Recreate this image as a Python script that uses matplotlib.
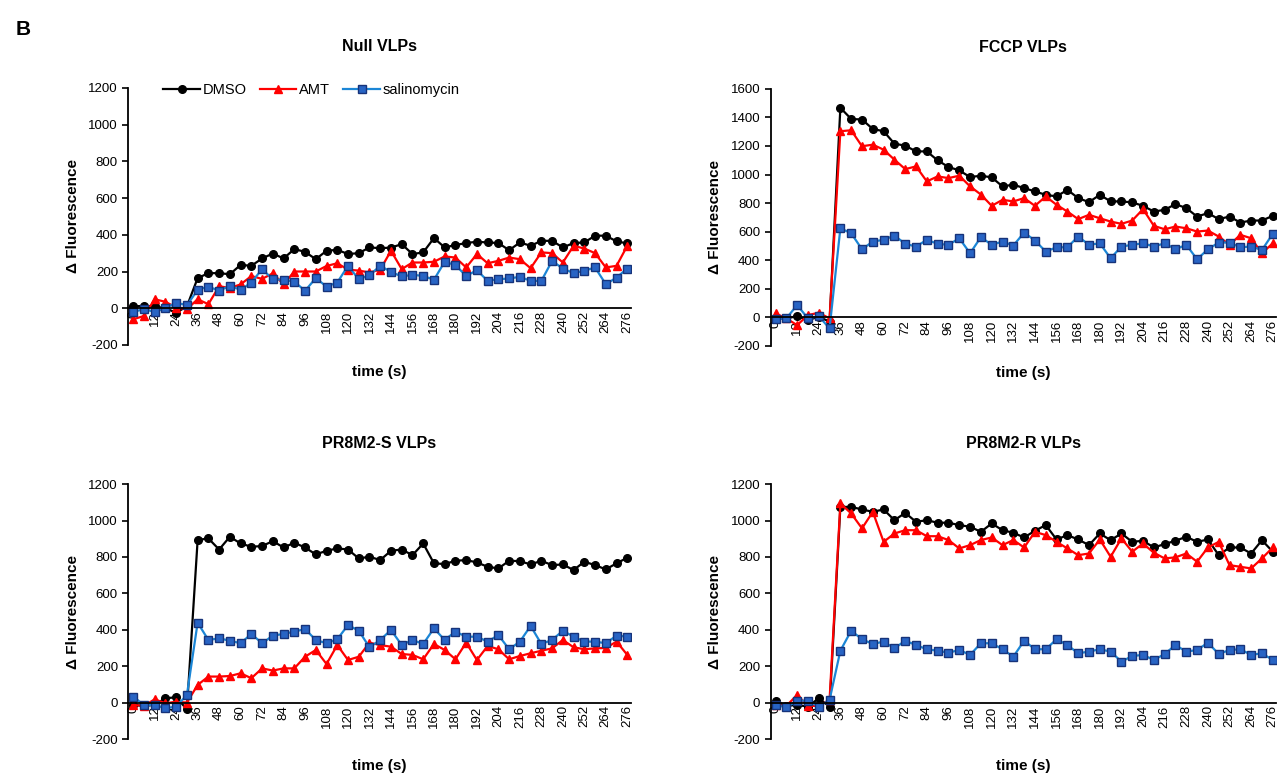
import matplotlib
matplotlib.use("Agg")
import matplotlib.pyplot as plt

plt.rcParams['font.family'] = ['Liberation Sans', 'DejaVu Sans']
plt.rcParams['axes.unicode_minus'] = False

# time points (s), one every 6 s
time_s = list(range(0, 277, 6))
tick_labels = [str(t) if t % 12 == 0 else '' for t in time_s]

# Null VLPs
null_dmso = [10, 13, 10, 0, -24, 10, 164, 191, 191, 185, 236, 231, 271, 298, 271, 322, 307, 267, 313, 318, 295, 300, 331, 327, 330,
             349, 295, 304, 382, 331, 344, 355, 362, 358, 355, 316, 358, 340, 367, 367, 331, 355, 358, 395, 395, 364, 353]
null_amt = [-60, -42, 49, 35, 4, -5, 49, 22, 120, 110, 130, 175, 160, 190, 130, 200, 200, 200, 230, 245, 210, 205, 195, 210, 313,
            213, 249, 249, 253, 282, 276, 222, 295, 245, 258, 276, 267, 218, 304, 300, 249, 340, 325, 300, 222, 231, 340]
null_sal = [-20, -5, -20, 0, 31, 16, 100, 118, 95, 122, 100, 140, 213, 158, 155, 145, 95, 164, 118, 140, 231, 158, 180, 231, 198,
            173, 182, 176, 155, 253, 235, 176, 207, 149, 158, 162, 171, 149, 149, 258, 216, 191, 204, 222, 131, 167, 216]

# FCCP VLPs
fccp_dmso = [-7, -7, 9, -19, 5, -30, 1467, 1389, 1385, 1319, 1303, 1216, 1202, 1162, 1162, 1099, 1053, 1029, 982, 992, 980,
             917, 929, 905, 882, 858, 847, 893, 835, 807, 858, 812, 812, 805, 781, 741, 753, 793, 765, 706, 730,
             688, 706, 664, 678, 678, 711]
fccp_amt = [28, -7, -54, 16, 33, -7, 1303, 1310, 1198, 1209, 1174, 1104, 1038, 1057, 952, 987, 975, 992, 917, 860, 781,
            823, 812, 835, 781, 847, 788, 741, 688, 718, 694, 671, 655, 678, 758, 641, 617, 636, 624, 601, 608,
            566, 508, 578, 554, 449, 519]
fccp_sal = [-14, -7, 87, -7, 9, -77, 624, 589, 477, 531, 543, 573, 515, 496, 543, 515, 508, 554, 449, 562, 508,
            531, 503, 594, 538, 461, 491, 491, 566, 508, 519, 414, 496, 508, 519, 496, 519, 477, 508, 407, 477,
            524, 524, 491, 496, 472, 585]

# PR8M2-S VLPs
s_dmso = [-13, -18, -13, 24, 29, -37, 893, 902, 841, 911, 874, 856, 860, 887, 852, 878, 852, 814, 834, 847, 841, 792, 801,
          783, 834, 841, 810, 874, 765, 761, 779, 783, 770, 746, 737, 779, 777, 759, 779, 755, 759, 728, 774, 755, 732, 765, 796]
s_amt = [-13, -18, 18, -4, 5, 0, 97, 143, 143, 146, 161, 134, 188, 176, 188, 188, 252, 289, 212, 316, 234, 252, 329, 316, 307,
         267, 262, 238, 322, 289, 238, 329, 234, 311, 293, 238, 256, 271, 285, 298, 344, 304, 293, 298, 300, 335, 262]
s_sal = [33, -13, -13, -31, -22, 42, 439, 344, 353, 340, 326, 377, 326, 368, 377, 390, 404, 344, 326, 348, 426, 395, 304,
         344, 399, 316, 344, 322, 408, 344, 390, 362, 362, 335, 371, 293, 335, 421, 322, 344, 395, 362, 335, 335, 326, 368, 362]

# PR8M2-R VLPs
r_dmso = [11, -18, -13, -22, 24, -22, 1075, 1075, 1061, 1048, 1061, 1002, 1042, 993, 1002, 988, 988, 975, 966,
          938, 984, 947, 933, 907, 944, 975, 896, 920, 896, 865, 929, 892, 929, 883, 889, 852, 871, 889, 911,
          883, 896, 810, 852, 852, 819, 892, 829]
r_amt = [-13, -18, 42, -18, -18, 15, 1094, 1039, 957, 1048, 883, 929, 947, 947, 914, 914, 893, 847, 865,
         893, 907, 865, 893, 852, 938, 920, 883, 847, 810, 819, 896, 801, 902, 829, 874, 823, 792, 798, 819,
         774, 852, 883, 755, 746, 737, 792, 852]
r_sal = [-13, -26, 11, 11, -22, 15, 285, 395, 348, 322, 335, 298, 340, 316, 293, 285, 274, 289, 262,
         326, 326, 293, 252, 340, 293, 293, 348, 316, 271, 280, 293, 280, 225, 256, 262, 234, 267, 316, 280,
         289, 329, 267, 289, 293, 262, 271, 234]

panels = [
    ('Null VLPs', null_dmso, null_amt, null_sal, 1200, [0.1002, 0.556, 0.392, 0.331]),
    ('FCCP VLPs', fccp_dmso, fccp_amt, fccp_sal, 1600, [0.6016, 0.5547, 0.3945, 0.331]),
    ('PR8M2-S VLPs', s_dmso, s_amt, s_sal, 1200, [0.1002, 0.0489, 0.392, 0.328]),
    ('PR8M2-R VLPs', r_dmso, r_amt, r_sal, 1200, [0.6016, 0.0489, 0.3945, 0.328]),
]

fig = plt.figure(figsize=(12.81, 7.77), dpi=100)
fig.text(0.012, 0.962, 'B', fontsize=15, fontweight='bold', va='center')

for i, (title, dmso, amt, sal, ytop, pos) in enumerate(panels):
    ax = fig.add_axes(pos)
    # x axis crosses at y = 0, like the Excel original
    ax.spines['top'].set_visible(False)
    ax.spines['right'].set_visible(False)
    ax.spines['bottom'].set_position(('data', 0))
    ax.spines['bottom'].set_linewidth(1.3)
    ax.spines['left'].set_linewidth(1.3)

    idx = range(len(time_s))
    ax.plot(idx, dmso, color='black', marker='o', markersize=5.5, linewidth=1.6, label='DMSO')
    ax.plot(idx, amt, color='#ff0000', marker='^', markersize=6, linewidth=1.6, label='AMT')
    ax.plot(idx, sal, color='#1b86d6', marker='s', markersize=5.5, linewidth=1.6,
            markerfacecolor='#2864c4', markeredgecolor='#17337a', markeredgewidth=1.0, label='salinomycin')

    ax.set_ylim(-200, ytop)
    ax.set_yticks(range(-200, ytop + 1, 200))
    ax.set_xlim(-0.45, 46.3)
    ax.set_xticks(list(idx))
    ax.set_xticklabels(tick_labels)
    ax.tick_params(axis='x', length=0, pad=2, labelsize=9.5, labelrotation=90)
    ax.tick_params(axis='y', labelsize=9.5, length=4, width=1.2, direction='out')

    ax.text(0.5, 1.16, title, transform=ax.transAxes, ha='center', va='center',
            fontsize=11.5, fontweight='bold')
    ax.text(0.5, -0.105, 'time (s)', transform=ax.transAxes, ha='center', va='center',
            fontsize=11, fontweight='bold')
    ax.set_ylabel('\u0394 Fluorescence', fontsize=11, fontweight='bold', labelpad=6)

    if i == 0:
        ax.legend(loc='upper left', bbox_to_anchor=(0.058, 1.04), ncol=3, frameon=False,
                  fontsize=10.5, handlelength=2.5, columnspacing=0.9, handletextpad=0.2,
                  borderaxespad=0)

fig.savefig('out.png', dpi=100)
